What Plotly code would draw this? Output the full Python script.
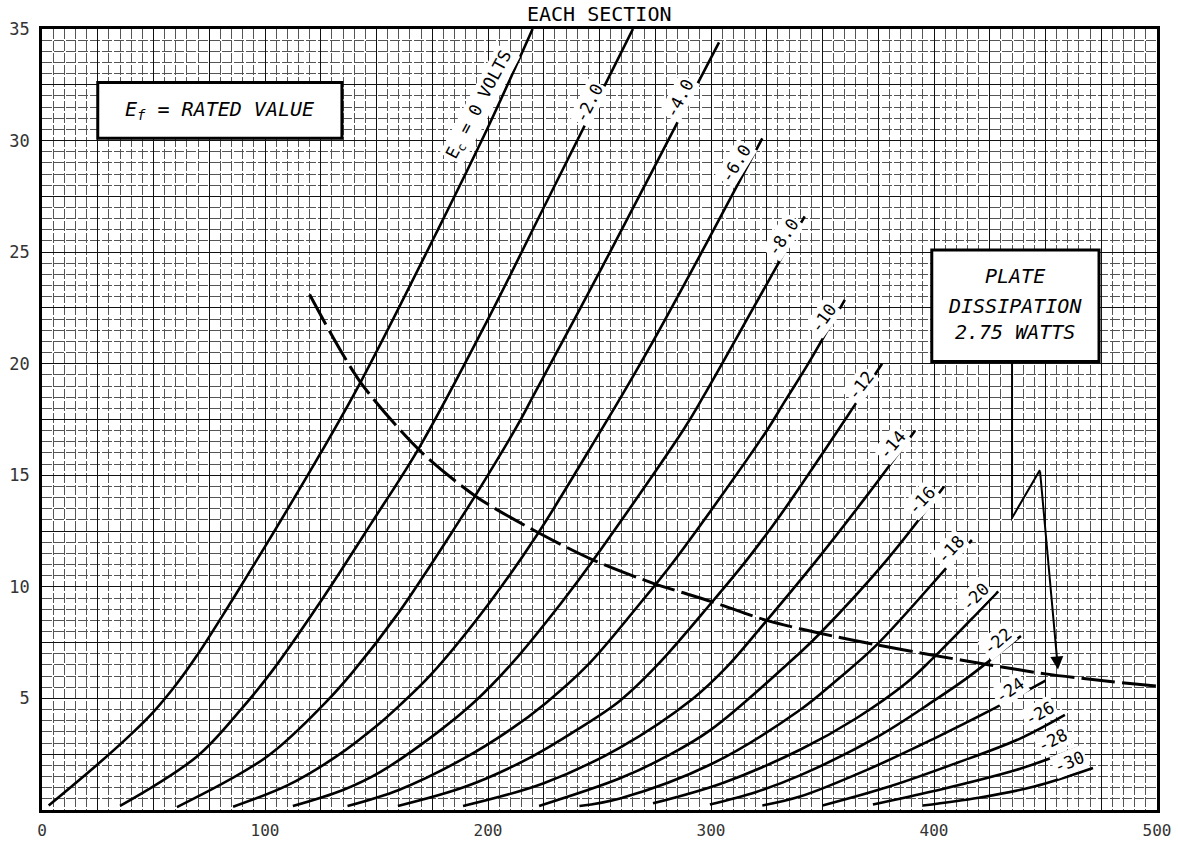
import plotly.graph_objects as go

# ---------------- data ----------------
# plate voltage (V) and plate current (mA) per grid-bias curve
V_0 = [3, 25, 40, 50, 60, 70, 84, 100, 125, 143, 178, 200, 220]
I_0 = [0.2, 2.05, 3.4, 4.4, 5.6, 7.0, 9.2, 11.8, 16.0, 19.2, 26.1, 30.6, 35.0]

V_2 = [35, 69.5, 90, 103, 126, 148, 169.5, 199.5, 224, 249, 265]
I_2 = [0.18, 2.4, 4.6, 6.2, 9.5, 12.9, 16.3, 21.9, 26.8, 31.8, 35.0]

V_4 = [60.5, 101, 127, 139.5, 159.6, 187.4, 195, 213, 220, 250, 274, 290.6, 303.6]
I_4 = [0.13, 2.4, 4.8, 6.2, 8.8, 13.0, 14.2, 17.2, 18.5, 24.1, 28.7, 31.9, 34.4]

V_6 = [85.7, 110, 132, 151.6, 160.5, 174.7, 200, 221.8, 250, 259, 274, 298, 323]
I_6 = [0.15, 1.1, 2.4, 3.9, 4.7, 6.1, 9.2, 12.3, 16.9, 18.4, 21.0, 25.4, 30.1]

V_8 = [112.5, 135, 151.6, 175, 194, 211, 233, 247.2, 288, 296.4, 319, 342]
I_8 = [0.18, 0.9, 1.7, 3.3, 4.85, 6.6, 9.3, 11.2, 17.1, 18.5, 22.5, 26.6]

V_10 = [137, 160, 189, 210, 226, 244.8, 267.7, 283, 325, 333, 343, 360]
I_10 = [0.18, 0.9, 2.3, 3.6, 4.8, 6.5, 9.2, 11.1, 17.0, 18.3, 19.9, 22.86]

V_12 = [159.6, 190, 218, 240, 259.2, 276, 300.3, 316, 331, 365.5, 376.7]
I_12 = [0.18, 1.05, 2.3, 3.6, 4.9, 6.5, 9.3, 11.2, 13.2, 18.3, 20.0]

V_14 = [188.8, 225, 259.2, 292, 307, 324.2, 347.4, 370, 391.5]
I_14 = [0.18, 1.2, 2.8, 5.0, 6.4, 8.4, 11.2, 14.1, 17.0]

V_16 = [222.9, 259.2, 280, 300, 339.9, 348.9, 378.8, 404.5]
I_16 = [0.18, 1.42, 2.4, 3.6, 7.05, 7.92, 11.2, 14.5]

V_18 = [241, 259.2, 300, 339.9, 356.5, 374.3, 408.7, 417]
I_18 = [0.18, 0.52, 2.05, 4.48, 5.83, 7.4, 11.2, 12.1]

V_20 = [274, 305, 339.9, 365, 387.7, 399, 428.8]
I_20 = [0.3, 1.2, 2.7, 4.1, 5.7, 6.75, 9.8]

V_22 = [299.5, 320, 339.9, 375, 400, 414.6, 425, 439]
I_22 = [0.25, 0.8, 1.55, 3.3, 4.9, 5.9, 6.7, 7.8]

V_24 = [323, 339.9, 370, 400, 425, 450]
I_24 = [0.2, 0.6, 1.8, 3.2, 4.45, 5.8]

V_26 = [350, 380, 410, 438.6, 458.7]
I_26 = [0.2, 1.05, 2.1, 3.2, 4.26]

V_28 = [372.6, 400, 438.6, 465.5]
I_28 = [0.25, 0.85, 1.85, 2.82]

V_30 = [395, 420, 445, 471.3]
I_30 = [0.2, 0.55, 1.05, 1.88]

# plate dissipation 2.75 W curve
V_DISS = [120, 142.6, 169.5, 194.9, 221.8, 247.2, 274.1, 300.3, 324.2, 348.9,
          374.3, 399, 425, 450, 475, 500]
I_DISS = [23.1, 19.2, 16.1, 14.03, 12.47, 11.2, 10.16, 9.34, 8.52, 7.92,
          7.4, 6.95, 6.5, 6.1, 5.8, 5.55]

CURVE_LABELS = ["E<sub>c</sub> = 0 VOLTS", "-2.0", "-4.0", "-6.0", "-8.0", "-10", "-12",
                "-14", "-16", "-18", "-20", "-22", "-24", "-26", "-28", "-30"]
# label centre (V, mA) and rotation
LABEL_V = [196.5, 245.2, 286.0, 311.2, 332.2, 350.5, 367.2, 381.2, 394.6, 407.6, 418.4, 428.6,
           434.0, 447.5, 453.3, 460.6]
LABEL_I = [31.6, 31.7, 31.9, 29.0, 25.7, 22.05, 19.05, 16.36, 13.9, 11.7, 9.55, 7.57,
           5.4, 4.35, 3.15, 2.15]
LABEL_ANG = [-62, -63, -62, -58, -56, -54, -52, -50, -47, -47, -46, -40,
             -35, -29, -27, -22]

X_TICKS = list(range(0, 501, 25))
X_TEXT = [str(v) if v % 100 == 0 else "" for v in X_TICKS]
Y_TICKS = [i * 2.5 for i in range(15)]
Y_TEXT = [("%d" % v) if (v % 5 == 0 and v > 0) else "" for v in Y_TICKS]

TITLE = "EACH SECTION"
EF_TEXT = "E<sub>f</sub> = RATED VALUE"
DISS_LINES = ["PLATE", "DISSIPATION", "2.75 WATTS"]

# ---------------- figure ----------------
curves = [(V_0, I_0), (V_2, I_2), (V_4, I_4), (V_6, I_6), (V_8, I_8), (V_10, I_10),
          (V_12, I_12), (V_14, I_14), (V_16, I_16), (V_18, I_18), (V_20, I_20),
          (V_22, I_22), (V_24, I_24), (V_26, I_26), (V_28, I_28), (V_30, I_30)]

fig = go.Figure()
for (vv, ii), name in zip(curves, CURVE_LABELS):
    fig.add_trace(go.Scatter(x=vv, y=ii, mode="lines", name=name,
                             line=dict(color="black", width=2.6, shape="spline", smoothing=1.0),
                             hoverinfo="skip", showlegend=False))

fig.add_trace(go.Scatter(x=V_DISS, y=I_DISS, mode="lines", name="2.75 W",
                         line=dict(color="black", width=3, dash="34px,7px",
                                   shape="spline", smoothing=0.8),
                         hoverinfo="skip", showlegend=False))

MONO = "DejaVu Sans Mono"

annotations = []
for txt, lv, li, ang in zip(CURVE_LABELS, LABEL_V, LABEL_I, LABEL_ANG):
    annotations.append(dict(x=lv, y=li, xref="x", yref="y", text=txt, showarrow=False,
                            textangle=ang, bgcolor="white", borderpad=1,
                            font=dict(family=MONO, size=17, color="black")))

annotations.append(dict(x=0.5, y=1.0, xref="paper", yref="paper", yanchor="bottom",
                        yshift=1, text=TITLE, showarrow=False,
                        font=dict(family=MONO, size=20, color="black")))
annotations.append(dict(x=79.5, y=31.35, xref="x", yref="y", text=EF_TEXT, showarrow=False,
                        font=dict(family=MONO, size=20, color="black", style="italic")))
for k, line in enumerate(DISS_LINES):
    annotations.append(dict(x=436.5, y=[23.95, 22.6, 21.4][k], xref="x", yref="y",
                            text=line, showarrow=False,
                            font=dict(family=MONO, size=20, color="black", style="italic")))
# arrow pointing to the dissipation curve
annotations.append(dict(x=455.6, y=6.3, ax=447.5, ay=15.24, xref="x", yref="y",
                        axref="x", ayref="y", text="", showarrow=True,
                        arrowhead=2, arrowsize=1.3, arrowwidth=2, arrowcolor="black"))

shapes = [
    dict(type="rect", xref="x", yref="y", x0=25, x1=134.5, y0=30.1, y1=32.6,
         line=dict(color="black", width=3), fillcolor="white", layer="above"),
    dict(type="rect", xref="x", yref="y", x0=399, x1=474, y0=20.1, y1=25.1,
         line=dict(color="black", width=3), fillcolor="white", layer="above"),
    dict(type="path", xref="x", yref="y",
         path="M 435,20.1 L 435,13.09 L 447.5,15.24",
         line=dict(color="black", width=2)),
]

fig.update_layout(
    width=1178, height=841,
    margin=dict(l=42, r=21, t=29, b=31),
    paper_bgcolor="white", plot_bgcolor="white",
    annotations=annotations, shapes=shapes,
    xaxis=dict(range=[0, 500], tickvals=X_TICKS, ticktext=X_TEXT, automargin=False,
               showgrid=True, gridcolor="#111", gridwidth=1.4,
               minor=dict(dtick=5, showgrid=True, gridcolor="#555", gridwidth=1,
                          griddash="10px,2px"),
               showline=True, linecolor="black", linewidth=2.5, mirror=True,
               ticks="", ticklabelstandoff=4, zeroline=False,
               tickfont=dict(family=MONO, size=16, color="#333")),
    yaxis=dict(range=[0, 35], tickvals=Y_TICKS, ticktext=Y_TEXT, automargin=False,
               showgrid=True, gridcolor="#111", gridwidth=1.4,
               minor=dict(dtick=0.5, showgrid=True, gridcolor="#555", gridwidth=1,
                          griddash="10px,2px"),
               showline=True, linecolor="black", linewidth=2.5, mirror=True,
               ticks="", ticklabelstandoff=6, zeroline=False,
               tickfont=dict(family=MONO, size=17, color="#333")),
)

fig.write_html("out.html",
               config={"displayModeBar": False},
               post_script="document.body.style.margin='0px';"
                           "document.body.style.overflow='hidden';")
